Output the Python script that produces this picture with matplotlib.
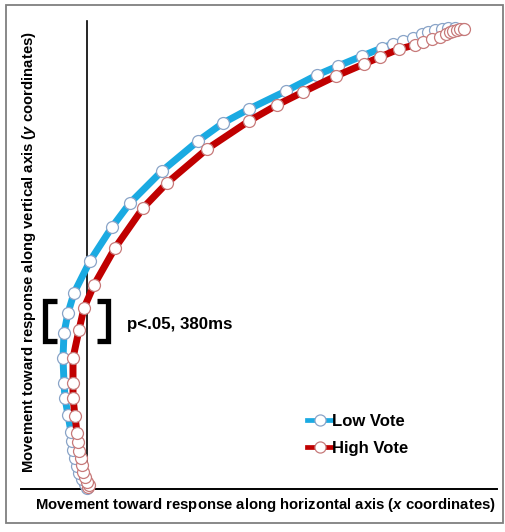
import matplotlib
matplotlib.use("Agg")
import matplotlib.pyplot as plt
from matplotlib.lines import Line2D
from matplotlib.patches import Rectangle

plt.rcParams['font.family'] = ['Liberation Sans', 'DejaVu Sans']
plt.rcParams['font.weight'] = 'bold'
plt.rcParams['mathtext.fontset'] = 'custom'
plt.rcParams['mathtext.it'] = 'Liberation Sans:italic:bold'
plt.rcParams['mathtext.rm'] = 'Liberation Sans:bold'

# Mean trajectories (units: pixels from the start point, x right, y up)
low_x = [-0.5, -2.5, -5.5, -8.5, -10.5, -12.5, -14.5, -15.5, -16.5, -19.5, -22.5,
         -23.5, -24.5, -23.5, -19.5, -13.5, 2.5, 24.5, 42.5, 74.5, 110.5, 135.5,
         161.5, 198.5, 229.5, 250.5, 274.5, 294.5, 305.5, 315.5, 325.5, 334.5,
         340.5, 347.5, 354.5, 360.5, 367.5, 375.5]
low_y = [0.5, 4.5, 9.5, 15.5, 22.5, 30.5, 38.5, 47.5, 56.5, 73.5, 90.5,
         105.5, 130.5, 155.5, 175.5, 195.5, 227.5, 261.5, 285.5, 317.5, 347.5, 365.5,
         379.5, 397.5, 413.5, 422.5, 432.5, 440.5, 444.5, 447.5, 450.5, 454.5,
         456.5, 458.5, 459.5, 460.5, 460.5, 459.5]
high_x = [0.5, 1.5, -0.5, -2.5, -4.5, -5.5, -6.5, -8.5, -9.5, -10.5, -12.5,
          -14.5, -14.5, -14.5, -8.5, -3.5, 6.5, 27.5, 55.5, 79.5, 119.5, 161.5,
          189.5, 215.5, 248.5, 276.5, 292.5, 311.5, 327.5, 335.5, 344.5, 352.5,
          358.5, 362.5, 365.5, 369.5, 372.5, 376.5]
high_y = [1.5, 3.5, 6.5, 11.5, 16.5, 23.5, 30.5, 37.5, 46.5, 55.5, 72.5,
          90.5, 105.5, 130.5, 158.5, 180.5, 203.5, 240.5, 280.5, 305.5, 339.5, 367.5,
          383.5, 396.5, 412.5, 424.5, 431.5, 439.5, 443.5, 446.5, 449.5, 451.5,
          454.5, 456.5, 457.5, 458.5, 459.5, 459.5]

series_labels = ['Low Vote', 'High Vote']
line_colors = ['#1aaae2', '#c00000']
edge_colors = ['#8aa4c8', '#c77a7a']
annotation = 'p<.05, 380ms'
xlabel = r'Movement toward response along horizontal axis ($\mathit{x}$ coordinates)'
ylabel = r'Movement toward response along vertical axis ($\mathit{y}$ coordinates)'

W, H = 506, 532
X0, Y0 = 87.5, 488.5  # origin pixel position in the figure

fig = plt.figure(figsize=(W / 100, H / 100), dpi=100)
ax = fig.add_axes([0, 0, 1, 1])
ax.set_xlim(-X0, W - X0)
ax.set_ylim(Y0 - H, Y0)
ax.axis('off')

# outer frame
fig.patches.append(Rectangle((6 / W, 1 - 523 / H), 497 / W, 518 / H,
                             transform=fig.transFigure, fill=False,
                             edgecolor='#7f7f7f', lw=1.3))

# axis lines
ax.plot([21 - X0, 497 - X0], [0, 0], color='black', lw=1.4, zorder=1)
ax.plot([0, 0], [0, Y0 - 21], color='black', lw=1.2, zorder=1)

for xs, ys, lc, ec, z in [(low_x, low_y, line_colors[0], edge_colors[0], 2),
                          (high_x, high_y, line_colors[1], edge_colors[1], 3)]:
    ax.plot(xs, ys, color=lc, lw=5.0, zorder=z, solid_capstyle='butt')
    ax.plot(xs, ys, ls='none', marker='o', ms=8.6, mfc='white', mec=ec,
            mew=0.9, zorder=z + 0.5)

# brackets
def bracket(xv, xs, ytop, ybot):
    ax.plot([xs, xv, xv, xs], [ytop, ytop, ybot, ybot], color='black', lw=3.8,
            solid_joinstyle='miter', solid_capstyle='butt', zorder=4)

bracket(45.5 - X0, 57 - X0, Y0 - 301, Y0 - 341)
bracket(108.5 - X0, 97 - X0, Y0 - 301, Y0 - 341)

ax.text(127 - X0, Y0 - 324, annotation, fontsize=12.2, fontweight='bold',
        ha='left', va='center')

ax.text(265 - X0, Y0 - 505, xlabel, fontsize=10.7, fontweight='bold',
        ha='center', va='center')
ax.text(29 - X0, Y0 - 252, ylabel, fontsize=10.7, fontweight='bold',
        ha='center', va='center', rotation=90)

handles = [Line2D([], [], color=line_colors[i], lw=3.4, marker='o', ms=8,
                  mfc='white', mec=edge_colors[i], mew=0.9)
           for i in range(2)]
leg = ax.legend(handles, series_labels, loc='upper left',
                bbox_to_anchor=(307 / W, 1 - 414 / H),
                bbox_transform=fig.transFigure, frameon=False,
                handlelength=1.5, handletextpad=0.0, labelspacing=0.7,
                borderpad=0, borderaxespad=0,
                prop={'size': 12, 'weight': 'bold'})

fig.savefig('out.png', dpi=100)
